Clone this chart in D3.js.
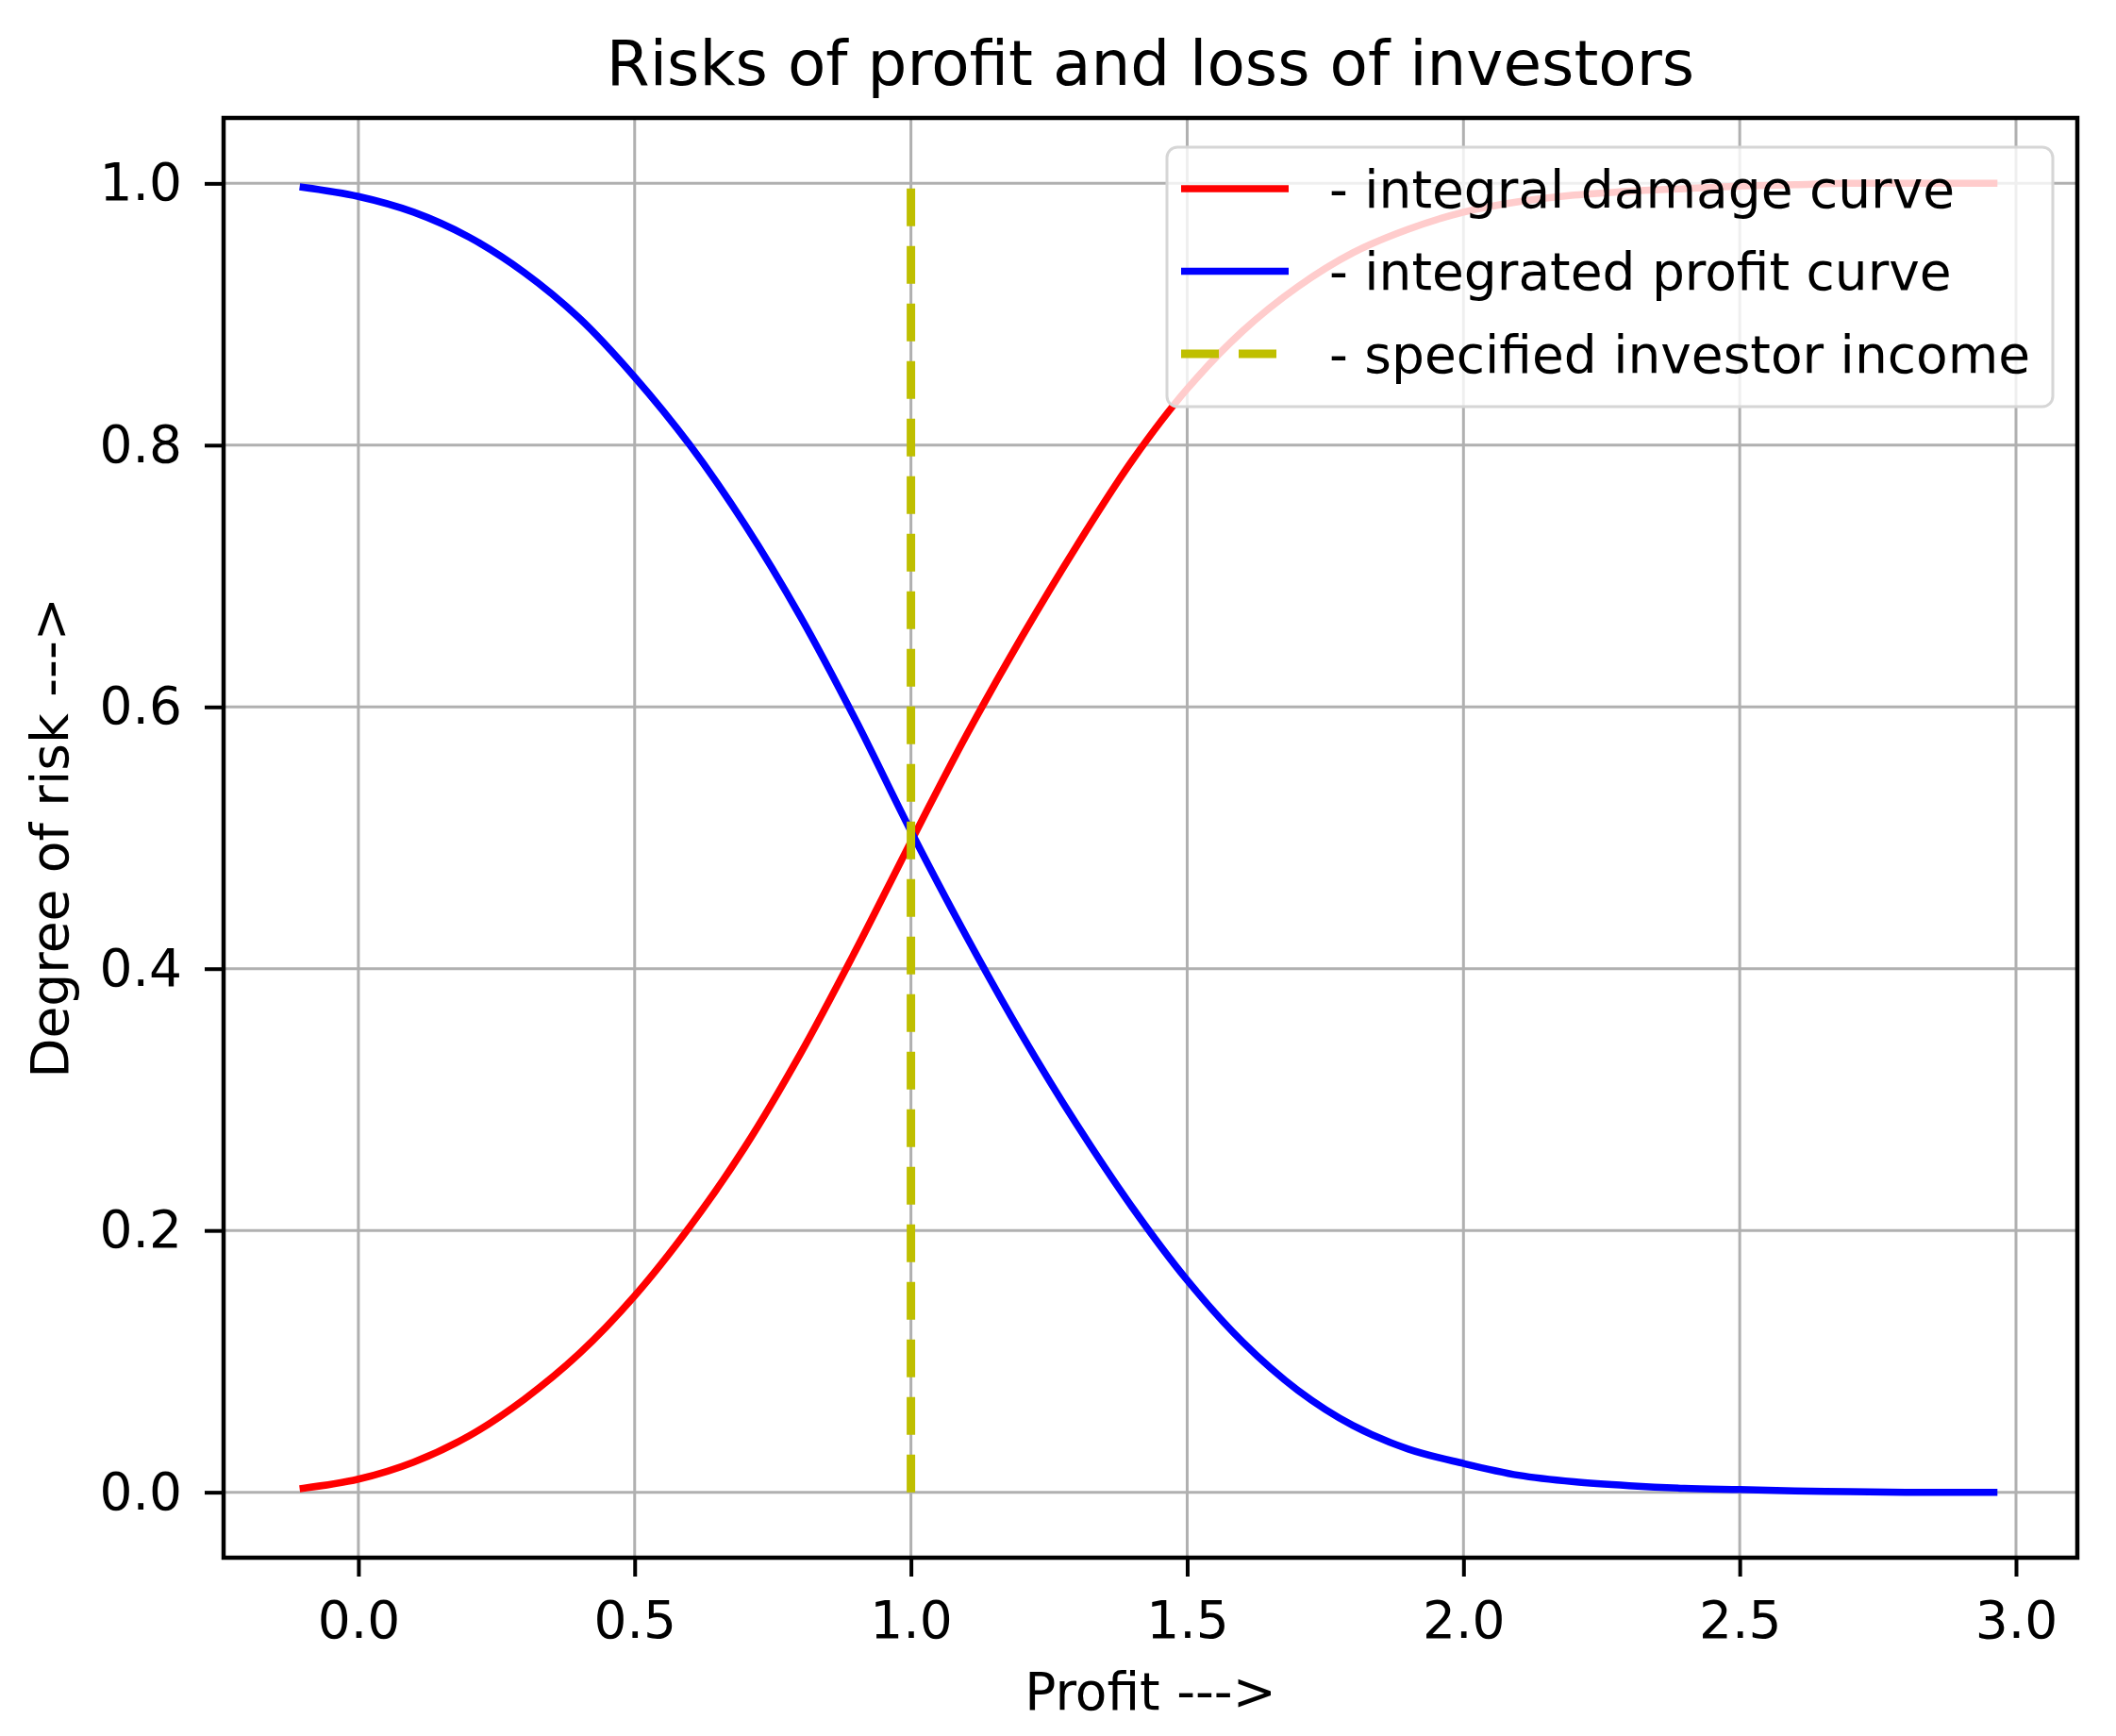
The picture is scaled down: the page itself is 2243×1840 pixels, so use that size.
<!DOCTYPE html>
<html>
<head>
<meta charset="utf-8">
<script src="https://cdn.jsdelivr.net/npm/d3@7"></script>
<style>
  body { margin: 0; background: #fff; }
  text { font-family: "DejaVu Sans", sans-serif; fill: #000; }
</style>
</head>
<body>
<div id="chart"></div>
<script>
// Profit values (x)
const profit = [-0.1, 0.0, 0.1, 0.2, 0.3, 0.4, 0.5, 0.6, 0.7, 0.8, 0.9, 1.0,
    1.1, 1.2, 1.3, 1.4, 1.5, 1.6, 1.7, 1.8, 1.9, 2.0, 2.1, 2.2, 2.3, 2.4, 2.5,
    2.6, 2.7, 2.8, 2.9, 2.96];

// Red curve: integral damage
const damageCurve = [0.003, 0.010, 0.023, 0.043, 0.071, 0.106, 0.150, 0.203,
    0.264, 0.335, 0.414, 0.497, 0.578, 0.653, 0.723, 0.788, 0.843, 0.887, 0.921,
    0.947, 0.965, 0.978, 0.986, 0.991, 0.994, 0.996, 0.998, 0.999, 1.0, 1.0, 1.0, 1.0];

// Blue curve: integrated profit
const profitCurve = [0.997, 0.990, 0.978, 0.959, 0.932, 0.897, 0.852, 0.800,
    0.739, 0.669, 0.590, 0.505, 0.425, 0.350, 0.281, 0.218, 0.162, 0.115, 0.078,
    0.051, 0.033, 0.022, 0.013, 0.008, 0.005, 0.003, 0.002, 0.001, 0.0005, 0.0, 0.0, 0.0];

// Vertical dashed line: specified investor income
const investorIncome = 1.0;
const incomeRange = [0, 1];

const xTicks = [0.0, 0.5, 1.0, 1.5, 2.0, 2.5, 3.0];
const yTicks = [0.0, 0.2, 0.4, 0.6, 0.8, 1.0];

const legendLabels = ["- integral damage curve", "- integrated profit curve", "- specified investor income"];

// Figure size and plot box
var W = 2243, H = 1840;
var margin = { top: 125, right: 41, bottom: 189, left: 237 },
    width = W - margin.left - margin.right,
    height = H - margin.top - margin.bottom;

var svg = d3.select("#chart")
    .append("svg")
    .attr("width", W)
    .attr("height", H);

var g = svg.append("g")
    .attr("transform", "translate(" + margin.left + "," + margin.top + ")");

// Scales (matplotlib style 5% padding)
var x = d3.scaleLinear().domain([-0.244, 3.111]).range([0, width]);
var y = d3.scaleLinear().domain([-0.05, 1.05]).range([height, 0]);

// Grid lines
g.append("g").selectAll("line")
    .data(xTicks)
    .enter().append("line")
    .attr("x1", d => x(d)).attr("x2", d => x(d))
    .attr("y1", 0).attr("y2", height)
    .attr("stroke", "#b0b0b0").attr("stroke-width", 3);

g.append("g").selectAll("line")
    .data(yTicks)
    .enter().append("line")
    .attr("x1", 0).attr("x2", width)
    .attr("y1", d => y(d)).attr("y2", d => y(d))
    .attr("stroke", "#b0b0b0").attr("stroke-width", 3);

// Curves
var line = d3.line()
    .x(d => x(d[0]))
    .y(d => y(d[1]))
    .curve(d3.curveCatmullRom.alpha(0.5));

g.append("path")
    .datum(profit.map((p, i) => [p, damageCurve[i]]))
    .attr("d", line)
    .attr("fill", "none")
    .attr("stroke", "#ff0000")
    .attr("stroke-width", 7.5)
    .attr("stroke-linecap", "square");

g.append("path")
    .datum(profit.map((p, i) => [p, profitCurve[i]]))
    .attr("d", line)
    .attr("fill", "none")
    .attr("stroke", "#0000ff")
    .attr("stroke-width", 7.5)
    .attr("stroke-linecap", "square");

// Dashed income line, drawn from bottom up like matplotlib does
g.append("line")
    .attr("x1", x(investorIncome)).attr("x2", x(investorIncome))
    .attr("y1", y(incomeRange[0])).attr("y2", y(incomeRange[1]))
    .attr("stroke", "#bfbf00")
    .attr("stroke-width", 9)
    .attr("stroke-dasharray", "40,21");

// Axes
var xAxis = g.append("g")
    .attr("transform", "translate(0," + height + ")")
    .call(d3.axisBottom(x).tickValues(xTicks).tickFormat(d3.format(".1f")).tickSize(20).tickPadding(26));

var yAxis = g.append("g")
    .call(d3.axisLeft(y).tickValues(yTicks).tickFormat(d3.format(".1f")).tickSize(20).tickPadding(24));

[xAxis, yAxis].forEach(function(a) {
    a.select(".domain").remove();
    a.selectAll(".tick line").attr("stroke", "#000").attr("stroke-width", 4);
    a.selectAll(".tick text")
        .style("font-family", "'DejaVu Sans', sans-serif")
        .style("font-size", "55px")
        .attr("fill", "#000");
});

// Frame around the plot
g.append("rect")
    .attr("x", 0).attr("y", 0)
    .attr("width", width).attr("height", height)
    .attr("fill", "none")
    .attr("stroke", "#000")
    .attr("stroke-width", 4.5);

// Title and axis labels
svg.append("text")
    .attr("x", margin.left + width / 2)
    .attr("y", 90)
    .attr("text-anchor", "middle")
    .style("font-size", "66px")
    .text("Risks of profit and loss of investors");

svg.append("text")
    .attr("x", margin.left + width / 2)
    .attr("y", 1812)
    .attr("text-anchor", "middle")
    .style("font-size", "55px")
    .text("Profit --->");

svg.append("text")
    .attr("transform", "translate(72," + (margin.top + height / 2) + ") rotate(-90)")
    .attr("text-anchor", "middle")
    .style("font-size", "55px")
    .text("Degree of risk --->");

// Legend (semi transparent box on top of the lines)
var legend = svg.append("g").attr("transform", "translate(1237,156)");

legend.append("rect")
    .attr("width", 939).attr("height", 275)
    .attr("rx", 11).attr("ry", 11)
    .attr("fill", "#fff").attr("fill-opacity", 0.8)
    .attr("stroke", "#d6d6d6").attr("stroke-width", 3);

var legendStyles = [
    { color: "#ff0000", width: 7.5, dash: null },
    { color: "#0000ff", width: 7.5, dash: null },
    { color: "#bfbf00", width: 9, dash: "40,21" }
];

legendLabels.forEach(function(label, i) {
    var rowY = 44 + i * 87.5;
    legend.append("line")
        .attr("x1", 15).attr("x2", 129)
        .attr("y1", rowY).attr("y2", rowY)
        .attr("stroke", legendStyles[i].color)
        .attr("stroke-width", legendStyles[i].width)
        .attr("stroke-dasharray", legendStyles[i].dash);
    legend.append("text")
        .attr("x", 172)
        .attr("y", rowY)
        .attr("dy", "0.36em")
        .style("font-size", "55px")
        .text(label);
});
</script>
</body>
</html>
